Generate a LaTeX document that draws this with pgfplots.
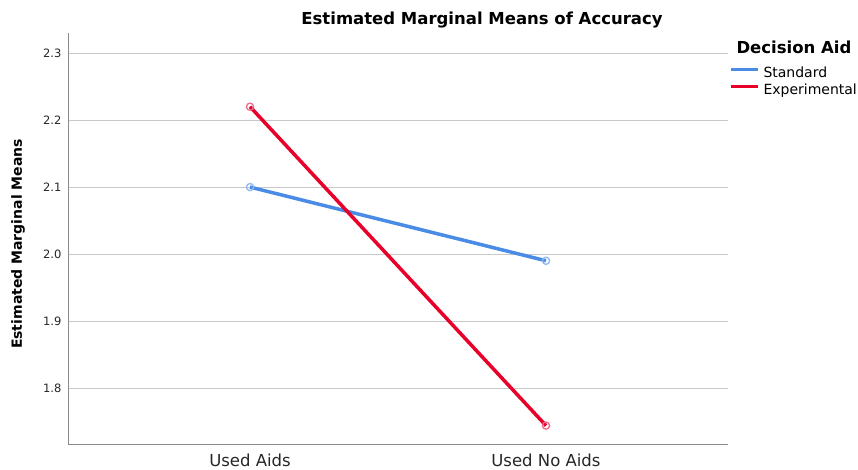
\documentclass[border=0pt]{standalone}
\usepackage{pgfplots}
\pgfplotsset{compat=1.18}
\usepackage{fontspec}
\setmainfont{DejaVu Sans}
\definecolor{stdblue}{HTML}{4A8BE6}
\definecolor{expred}{HTML}{E8002A}
\definecolor{stdbluel}{HTML}{8DB8F0}
\definecolor{expredl}{HTML}{F06A8A}
\definecolor{gridgray}{HTML}{C8C8C8}
\definecolor{axgray}{HTML}{8A8A8A}
\begin{document}
\begin{tikzpicture}[x=1pt,y=1pt]
\path[use as bounding box] (0,0) rectangle (858,469);
\begin{axis}[
  at={(68pt,25pt)}, anchor=south west,
  scale only axis, width=660pt, height=411pt,
  xmin=-0.615, xmax=1.615, ymin=1.7165, ymax=2.330,
  axis x line*=bottom, axis y line*=left,
  axis line style={axgray, line width=0.9pt, -},
  xtick={0,1}, xticklabels={Used Aids, Used No Aids},
  ytick={1.8,1.9,2.0,2.1,2.2,2.3},
  yticklabels={1.8,1.9,2.0,2.1,2.2,2.3},
  major tick length=0pt,
  ymajorgrids, grid style={gridgray, line width=0.9pt},
  yticklabel style={font=\fontsize{11.5}{12}\selectfont, text=black!85, xshift=-3pt},
  xticklabel style={font=\fontsize{16.5}{18}\selectfont, text=black!85, yshift=-6pt},
  clip=false,
  legend style={at={(axis description cs:1.0015,0.917)}, anchor=north west, draw=none, fill=none, inner sep=0pt, outer sep=0pt,
    nodes={inner sep=0pt, text height=10pt, text depth=3pt, font=\fontsize{14}{15}\selectfont},
    row sep=4pt, legend cell align=left,
    /tikz/every odd column/.append style={column sep=4pt}},
  legend image code/.code={\draw[#1, line width=3.5pt] (0pt,4pt) -- (27pt,4pt);},
]
\addplot[stdblue, line width=3.5pt, mark=o, mark size=3.6pt, mark options={stdbluel, line width=1.3pt}] coordinates {(0,2.100) (1,1.990)};
\addlegendentry{Standard}
\addplot[expred, line width=3.5pt, mark=o, mark size=3.6pt, mark options={expredl, line width=1.3pt}] coordinates {(0,2.220) (1,1.744)};
\addlegendentry{Experimental}
\end{axis}
\node[font=\bfseries\fontsize{16.5}{18}\selectfont] at (482,449) {Estimated Marginal Means of Accuracy};
\node[font=\bfseries\fontsize{14}{15}\selectfont, rotate=90] at (18,225) {Estimated Marginal Means};
\node[font=\bfseries\fontsize{16.5}{18}\selectfont, anchor=west] at (733,422) {Decision Aid};
\end{tikzpicture}
\end{document}
